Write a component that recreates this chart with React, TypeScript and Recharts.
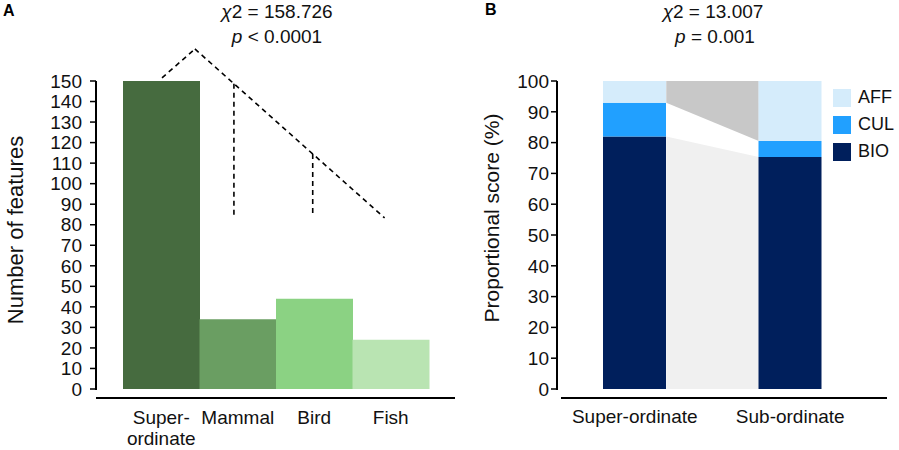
import React from 'react';
import {
    ComposedChart,
    Bar,
    Cell,
    Area,
    XAxis,
    YAxis,
    ReferenceLine,
} from 'recharts';

// Panel A
const levels = ['Super-ordinate', 'Mammal', 'Bird', 'Fish'];
const featureCounts = [150, 34, 44, 24];
const greens = ['#466b3f', '#6a9e62', '#8bd283', '#b9e4b2'];
const countTicks = [0, 10, 20, 30, 40, 50, 60, 70, 80, 90, 100, 110, 120, 130, 140, 150];

// dashed test bracket, x in bar-band units (bar i spans i..i+1)
const bracket = [
    { x: 0.51, y: 151.5 },
    { x: 0.94, y: 165.6 },
    { x: 3.42, y: 83.3 },
];
const drops = [
    { x: 1.45, top: 148.7, bottom: 83.8 },
    { x: 2.48, top: 114.5, bottom: 83.8 },
];

// Panel B
const groups = ['Super-ordinate', 'Sub-ordinate'];
const bio = [82, 75.3];
const cul = [10.9, 5.2];
const aff = [7.1, 19.5];
const pctTicks = [0, 10, 20, 30, 40, 50, 60, 70, 80, 90, 100];
const legendItems = [
    { name: 'AFF', color: '#d5ecfb' },
    { name: 'CUL', color: '#21a0ff' },
    { name: 'BIO', color: '#001f5c' },
];
const BAR_HALF = 0.2026; // half bar width in band units

const countData = levels.map((name, i) => ({ name, pos: i + 0.5, count: featureCounts[i] }));
const scoreData = groups.map((name, i) => ({ name, BIO: bio[i], CUL: cul[i], AFF: aff[i] }));
// connector polygons between the two bars, at their facing edges
const linkData = [0.5 + BAR_HALF, 1.5 - BAR_HALF].map((x, i) => ({
    x,
    bio: bio[i],
    rest: [bio[i] + cul[i], 100],
}));

const FONT = 'Arial, "Liberation Sans", sans-serif';

function LevelTick({ x, y, payload }: any) {
    const lines = payload.value === 'Super-ordinate' ? ['Super-', 'ordinate'] : [payload.value];
    return (
        <text x={x} y={y} textAnchor="middle" fontSize={19} fill="#111">
            {lines.map((l: string, i: number) => (
                <tspan key={l} x={x} dy={i === 0 ? 18 : 21}>
                    {l}
                </tspan>
            ))}
        </text>
    );
}

function PanelA() {
    return (
        <ComposedChart
            width={460}
            height={450}
            data={countData}
            margin={{ top: 81, right: 5, left: 0, bottom: 0 }}
            barCategoryGap={0}
        >
            <XAxis
                dataKey="name"
                height={52}
                padding={{ left: 27, right: 26 }}
                tickLine={false}
                axisLine={{ stroke: '#000', strokeWidth: 2 }}
                tick={<LevelTick />}
                interval={0}
            />
            <XAxis
                xAxisId="band"
                type="number"
                dataKey="pos"
                domain={[0, 4]}
                allowDataOverflow
                padding={{ left: 27, right: 26 }}
                hide
            />
            <YAxis
                width={96}
                domain={[0, 150]}
                ticks={countTicks}
                interval={0}
                padding={{ bottom: 9 }}
                tickSize={6}
                tickMargin={8}
                axisLine={{ stroke: '#000', strokeWidth: 2, strokeDasharray: '309 40' }}
                tickLine={{ stroke: '#000', strokeWidth: 1.5 }}
                tick={{ fill: '#111', fontSize: 19 }}
            />
            <Bar dataKey="count" isAnimationActive={false}>
                {countData.map((d, i) => (
                    <Cell key={d.name} fill={greens[i]} />
                ))}
            </Bar>
            {bracket.slice(1).map((p, i) => (
                <ReferenceLine
                    key={'b' + i}
                    xAxisId="band"
                    segment={[
                        { x: bracket[i].x, y: bracket[i].y },
                        { x: p.x, y: p.y },
                    ]}
                    stroke="#000"
                    strokeWidth={1.6}
                    strokeDasharray="5 4"
                    ifOverflow="visible"
                />
            ))}
            {drops.map((d, i) => (
                <ReferenceLine
                    key={'d' + i}
                    xAxisId="band"
                    segment={[
                        { x: d.x, y: d.top },
                        { x: d.x, y: d.bottom },
                    ]}
                    stroke="#000"
                    strokeWidth={1.6}
                    strokeDasharray="5 4"
                    ifOverflow="visible"
                />
            ))}
        </ComposedChart>
    );
}

function PanelB() {
    return (
        <ComposedChart
            width={449}
            height={450}
            data={scoreData}
            margin={{ top: 81, right: 12, left: 0, bottom: 0 }}
        >
            <XAxis
                dataKey="name"
                height={52}
                padding={{ left: 0, right: 19 }}
                tickLine={false}
                tickMargin={6}
                axisLine={{ stroke: '#000', strokeWidth: 2, strokeDasharray: '0 4 400' }}
                tick={{ fill: '#111', fontSize: 19 }}
                interval={0}
            />
            <XAxis
                xAxisId="link"
                type="number"
                dataKey="x"
                domain={[0, 2]}
                allowDataOverflow
                padding={{ left: 0, right: 19 }}
                hide
            />
            <YAxis
                width={107}
                domain={[0, 100]}
                ticks={pctTicks}
                interval={0}
                padding={{ bottom: 9 }}
                tickSize={6}
                tickMargin={2}
                axisLine={{ stroke: '#000', strokeWidth: 2, strokeDasharray: '309 40' }}
                tickLine={{ stroke: '#000', strokeWidth: 1.5 }}
                tick={{ fill: '#111', fontSize: 19 }}
            />
            <Area
                xAxisId="link"
                data={linkData}
                dataKey="bio"
                type="linear"
                baseValue={0}
                fill="#f0f0f0"
                fillOpacity={1}
                stroke="none"
                dot={false}
                activeDot={false}
                isAnimationActive={false}
            />
            <Area
                xAxisId="link"
                data={linkData}
                dataKey="rest"
                type="linear"
                fill="#c8c8c8"
                fillOpacity={1}
                stroke="none"
                dot={false}
                activeDot={false}
                isAnimationActive={false}
            />
            <Bar dataKey="BIO" stackId="s" barSize={63} fill="#001f5c" isAnimationActive={false} />
            <Bar dataKey="CUL" stackId="s" barSize={63} fill="#21a0ff" isAnimationActive={false} />
            <Bar dataKey="AFF" stackId="s" barSize={63} fill="#d5ecfb" isAnimationActive={false} />
        </ComposedChart>
    );
}

export default function App() {
    return (
        <div style={{ position: 'absolute', left: 0, top: 0, width: 899, height: 450, fontFamily: FONT, background: '#fff' }}>
            <div style={{ position: 'absolute', left: 0, top: 0 }}>
                <PanelA />
            </div>
            <div style={{ position: 'absolute', left: 450, top: 0 }}>
                <PanelB />
            </div>
            <div style={{ position: 'absolute', left: 833, top: 84 }}>
                {legendItems.map((it) => (
                    <div key={it.name} style={{ display: 'flex', alignItems: 'center', height: 27 }}>
                        <div style={{ width: 18, height: 18, background: it.color }} />
                        <span style={{ marginLeft: 7, fontSize: 18, color: '#111' }}>{it.name}</span>
                    </div>
                ))}
            </div>
            <svg width={899} height={450} style={{ position: 'absolute', left: 0, top: 0, pointerEvents: 'none' }}>
                <text x={3} y={16} fontSize={16} fontWeight="bold" fill="#000">A</text>
                <text x={485} y={15} fontSize={16} fontWeight="bold" fill="#000">B</text>
                <text x={277} y={18} textAnchor="middle" fontSize={19} fill="#111">
                    <tspan fontStyle="italic">χ</tspan>2 = 158.726
                </text>
                <text x={277} y={43} textAnchor="middle" fontSize={19} fill="#111">
                    <tspan fontStyle="italic">p</tspan> &lt; 0.0001
                </text>
                <text x={713} y={18} textAnchor="middle" fontSize={19} fill="#111">
                    <tspan fontStyle="italic">χ</tspan>2 = 13.007
                </text>
                <text x={715} y={43} textAnchor="middle" fontSize={19} fill="#111">
                    <tspan fontStyle="italic">p</tspan> = 0.001
                </text>
                <text transform="translate(23,230) rotate(-90)" textAnchor="middle" fontSize={22} fill="#111">
                    Number of features
                </text>
                <text transform="translate(499,218) rotate(-90)" textAnchor="middle" fontSize={21} fill="#111">
                    Proportional score (%)
                </text>
            </svg>
        </div>
    );
}
